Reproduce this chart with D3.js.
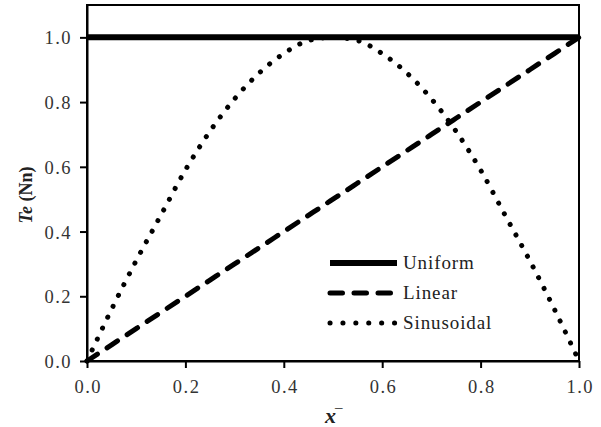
<!DOCTYPE html>
<html>
<head>
<meta charset="utf-8">
<script src="https://cdn.jsdelivr.net/npm/d3@7"></script>
<style>
  body { margin: 0; background: #fff; }
</style>
</head>
<body>
<div id="chart"></div>
<script>
// x positions shared by all three profiles
const xValues = [0, 0.05, 0.1, 0.15, 0.2, 0.25, 0.3, 0.35, 0.4, 0.45, 0.5,
                 0.55, 0.6, 0.65, 0.7, 0.75, 0.8, 0.85, 0.9, 0.95, 1.0];
const uniformValues = [1, 1, 1, 1, 1, 1, 1, 1, 1, 1, 1, 1, 1, 1, 1, 1, 1, 1, 1, 1, 1];
const linearValues = [0, 0.05, 0.1, 0.15, 0.2, 0.25, 0.3, 0.35, 0.4, 0.45, 0.5,
                      0.55, 0.6, 0.65, 0.7, 0.75, 0.8, 0.85, 0.9, 0.95, 1.0];
const sinusoidalValues = [0, 0.16, 0.31, 0.45, 0.59, 0.71, 0.81, 0.89, 0.95, 0.99, 1.0,
                          0.99, 0.95, 0.89, 0.81, 0.71, 0.59, 0.45, 0.31, 0.16, 0];
const seriesNames = ["Uniform", "Linear", "Sinusoidal"];
const xTicks = [0, 0.2, 0.4, 0.6, 0.8, 1.0];
const yTicks = [0, 0.2, 0.4, 0.6, 0.8, 1.0];

const serif = "'Liberation Serif', 'Times New Roman', serif";

const width = 601,
  height = 427,
  margin = { top: 5, right: 22, bottom: 66, left: 87 };

const svg = d3.select("#chart")
  .append("svg")
  .attr("width", width)
  .attr("height", height);

const x = d3.scaleLinear([0, 1], [margin.left, width - margin.right]);
const y = d3.scaleLinear([0, 1.1], [height - margin.bottom, margin.top]);

// plot frame
svg.append("rect")
  .attr("x", margin.left)
  .attr("y", margin.top)
  .attr("width", width - margin.left - margin.right)
  .attr("height", height - margin.top - margin.bottom)
  .attr("fill", "none")
  .attr("stroke", "#000")
  .attr("stroke-width", 2);

const xAxis = svg.append("g")
  .attr("transform", `translate(0,${height - margin.bottom})`)
  .call(d3.axisBottom(x).tickValues(xTicks).tickSize(7).tickSizeOuter(0).tickFormat(d3.format(".1f")));

const yAxis = svg.append("g")
  .attr("transform", `translate(${margin.left},0)`)
  .call(d3.axisLeft(y).tickValues(yTicks).tickSize(7).tickSizeOuter(0).tickFormat(d3.format(".1f")));

[xAxis, yAxis].forEach(a => {
  a.attr("font-size", null).attr("font-family", null);
  a.select(".domain").attr("stroke", "#000").attr("stroke-width", 2);
  a.selectAll(".tick line").attr("stroke", "#000").attr("stroke-width", 2);
  a.selectAll(".tick text")
    .style("font-family", serif)
    .style("font-size", "18.5px")
    .style("letter-spacing", "1.5px")
    .style("fill", "#333");
});
xAxis.selectAll(".tick text").attr("y", 32).attr("dy", 0).attr("dx", "0.75px");
yAxis.selectAll(".tick text").attr("x", -15).attr("dy", "0.35em");

const rows = xValues.map((d, i) => ({
  x: d, Uniform: uniformValues[i], Linear: linearValues[i], Sinusoidal: sinusoidalValues[i]
}));

const styles = {
  Uniform: { width: 6, dash: null, cap: "butt" },
  Linear: { width: 5, dash: "12.5 11.5", cap: "round" },
  Sinusoidal: { width: 5, dash: "0.1 12", cap: "round" }
};

seriesNames.forEach(name => {
  const line = d3.line()
    .x(d => x(d.x))
    .y(d => y(d[name]))
    .curve(d3.curveMonotoneX);
  svg.append("path")
    .datum(rows)
    .attr("d", line)
    .attr("fill", "none")
    .attr("stroke", "#000")
    .attr("stroke-width", styles[name].width)
    .attr("stroke-dasharray", styles[name].dash)
    .attr("stroke-linecap", styles[name].cap);
});

// legend
const legend = svg.selectAll(".legend")
  .data(seriesNames)
  .join("g")
  .attr("class", "legend")
  .attr("transform", (d, i) => `translate(330,${263 + i * 30})`);

legend.append("line")
  .attr("x1", 0)
  .attr("x2", d => d === "Uniform" ? 67 : 65)
  .attr("stroke", "#000")
  .attr("stroke-width", d => styles[d].width)
  .attr("stroke-dasharray", d => d === "Sinusoidal" ? "0.1 12.8" : styles[d].dash)
  .attr("stroke-linecap", d => styles[d].cap);

legend.append("text")
  .attr("x", 73)
  .attr("dy", "0.33em")
  .style("font-family", serif)
  .style("font-size", "19px")
  .style("letter-spacing", "0.9px")
  .style("fill", "#222")
  .text(d => d);

// axis titles
svg.append("text")
  .attr("x", 325)
  .attr("y", 423)
  .style("font-family", serif)
  .style("font-size", "22px")
  .style("font-weight", "bold")
  .style("font-style", "italic")
  .style("fill", "#222")
  .text("x")
  .append("tspan")
  .attr("dx", -1)
  .attr("dy", -11)
  .style("font-size", "15px")
  .style("font-style", "normal")
  .style("font-weight", "normal")
  .text("\u2013");

svg.append("text")
  .attr("transform", `translate(32,${195}) rotate(-90)`)
  .attr("text-anchor", "middle")
  .style("font-family", serif)
  .style("font-size", "18px")
  .style("font-weight", "bold")
  .style("fill", "#222")
  .call(t => {
    t.append("tspan").style("font-style", "italic").text("Te");
    t.append("tspan").text(" (Nn)");
  });
</script>
</body>
</html>
